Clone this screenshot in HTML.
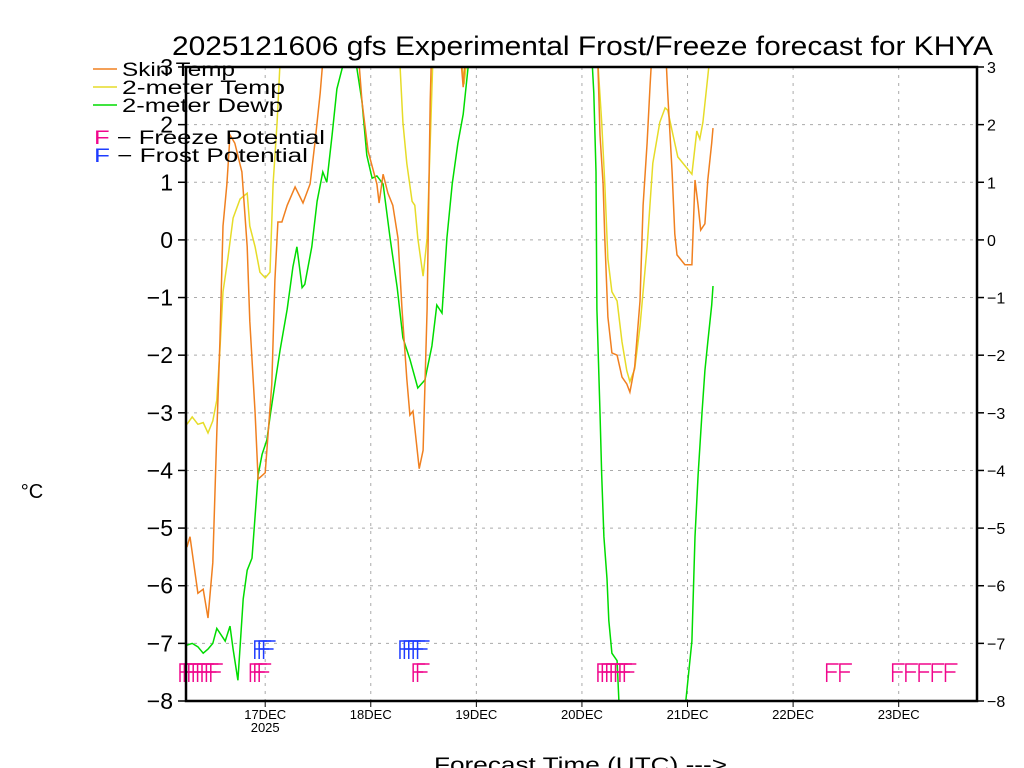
<!DOCTYPE html>
<html><head><meta charset="utf-8"><style>
html,body{margin:0;padding:0;background:#fff;}
svg{display:block;font-family:"Liberation Sans",sans-serif;}
</style></head><body>
<svg id="chart" width="1024" height="768" viewBox="0 0 1024 768" xmlns="http://www.w3.org/2000/svg">
<defs><clipPath id="plotclip"><rect x="186" y="67" width="791" height="634"/></clipPath></defs>
<text x="172" y="55" font-size="27" fill="#000" textLength="821" lengthAdjust="spacingAndGlyphs">2025121606 gfs Experimental Frost/Freeze forecast for KHYA</text>
<g id="grid"></g>
<g id="series" clip-path="url(#plotclip)"></g>
<g id="marks"></g>
<g id="axes"></g>
<text x="32" y="498" text-anchor="middle" font-size="20">°C</text>
<text x="434" y="772" font-size="21" textLength="293" lengthAdjust="spacingAndGlyphs">Forecast Time (UTC) ---&gt;</text>
<g>
<line x1="93" y1="69" x2="117" y2="69" stroke="#f08020" stroke-width="1.5"/>
<text x="122" y="76" font-size="19" textLength="113" lengthAdjust="spacingAndGlyphs">Skin Temp</text>
<line x1="93" y1="87" x2="117" y2="87" stroke="#e6dc28" stroke-width="1.5"/>
<text x="122" y="94" font-size="19" textLength="163" lengthAdjust="spacingAndGlyphs">2-meter Temp</text>
<line x1="93" y1="105" x2="117" y2="105" stroke="#00dc00" stroke-width="1.5"/>
<text x="122" y="112" font-size="19" textLength="161" lengthAdjust="spacingAndGlyphs">2-meter Dewp</text>
<text x="94" y="144" font-size="19" textLength="231" lengthAdjust="spacingAndGlyphs"><tspan fill="#f0068c">F</tspan> − Freeze Potential</text>
<text x="94" y="162" font-size="19" textLength="214" lengthAdjust="spacingAndGlyphs"><tspan fill="#1e3cff">F</tspan> − Frost Potential</text>
</g>
</svg>
<script>
const skinHours=[0.2,0.9,2.7,3.9,5,6.1,7,7.7,8.4,9.3,10,11.1,12.7,13.9,14.5,15.7,16.4,18,19.5,20.2,20.9,21.8,23,24.8,26.6,28.2,29.3,30.5,31.1,35,38.4,40,41.4,43.4,43.9,44.8,45.9,47,48.2,49.1,50.2,50.9,51.6,53,53.9,54.8,55.5,55.9,57.7,62.3,63,63.6,66.8,91.8,93.6,94.1,94.8,95.2,95.9,96.8,98,99.1,100.2,100.9,102,103.2,103.9,104.8,105.5,106.1,107.7,108.9,109.5,110.5,111.1,111.6,113.4,115,115.7,116.4,117,117.95,118.6,119.5,119.8];
const skinTemp=[-5.33,-5.15,-6.13,-6.06,-6.56,-5.6,-3.35,-1.77,0.24,0.97,1.82,1.68,1.18,-0.12,-1.41,-3.0,-4.15,-4.04,-2.5,-0.7,0.31,0.31,0.6,0.92,0.64,0.97,1.68,2.55,3.1,4,4,2.4,1.54,0.97,0.64,1.14,0.81,0.6,0.03,-1.2,-2.41,-3.04,-2.97,-3.97,-3.65,-1.2,2.4,3.5,4,3.3,2.65,3.3,4,4,3.1,1.82,0.97,0.03,-1.34,-1.96,-2.0,-2.38,-2.5,-2.64,-2.2,-1.06,0.6,1.68,2.69,3.5,4,3.5,2.55,1.18,0.1,-0.26,-0.43,-0.43,1.04,0.6,0.17,0.28,1.04,1.68,1.94];
const t2Hours=[0.2,1.4,2.7,3.9,5,6.1,7,7.7,8.4,9.5,10.7,12.3,13.9,14.5,15.7,16.8,18,19.1,19.8,20.7,21.4,25.9,46.4,48.6,49.3,50.2,51.4,52,52.7,53.9,54.8,55.5,56.1,57.7,62.3,63.2,64.1,66.8,91.8,93.6,94.5,95.2,95.9,96.8,98,99.1,100.2,100.9,102,103.2,104.8,106.1,107.7,108.9,109.5,110.7,111.8,113.4,115,116.1,116.8,117.5,118.4,119.1,119.8];
const t2Temp=[-3.2,-3.07,-3.2,-3.17,-3.35,-3.14,-2.78,-1.91,-0.9,-0.33,0.38,0.71,0.81,0.24,-0.12,-0.56,-0.66,-0.56,0.97,2.04,3.1,4,4,3.1,2.04,1.33,0.67,0.6,0.03,-0.63,0.03,1.68,3.1,4,3.3,2.7,3.3,4,4,3.1,2.04,0.97,-0.33,-0.9,-1.06,-1.77,-2.27,-2.46,-2.24,-1.5,-0.12,1.33,2.04,2.29,2.25,1.82,1.44,1.29,1.14,1.89,1.75,2.04,2.69,3.2,3.4];
const dewHours=[0.2,1.4,2.7,3.9,5,6.1,7,8.9,10,10.7,11.8,13,13.9,15,15.7,16.4,17.3,18.4,19.1,20.2,21.4,23,24.3,25.2,26.4,27,28.6,29.8,31.1,32,33.2,34.3,35.5,36.8,38.4,40,41.1,42.3,43.4,44.8,46.4,48,49.3,50.9,52.7,54.3,55.9,57,58.2,59.3,60.5,61.8,63,64.1,65.7,90.7,92.3,92.7,93.2,93.4,94.1,94.5,95,95.7,96.1,96.8,98,98.4,99.1,113,113.6,115,115.7,116.4,117.3,117.95,118.6,119.5,119.8];
const dewPoint=[-7.03,-7.0,-7.06,-7.17,-7.1,-7.0,-6.74,-6.96,-6.7,-7.1,-7.64,-6.23,-5.73,-5.52,-4.79,-4.08,-3.72,-3.47,-3.07,-2.5,-1.91,-1.2,-0.47,-0.12,-0.83,-0.77,-0.12,0.67,1.18,1.0,1.82,2.62,2.98,3.3,3.2,2.4,1.47,1.07,1.11,0.97,0.03,-0.83,-1.7,-2.07,-2.57,-2.43,-1.84,-1.13,-1.27,0.03,0.97,1.68,2.18,2.98,4,4,3.1,2.55,1.18,-1.2,-3.0,-4.08,-5.15,-5.88,-6.6,-7.17,-7.3,-8,-9,-9,-8,-6.96,-5.15,-4.08,-3.0,-2.27,-1.77,-1.13,-0.8];
const freezeHours=[0,1,2,3,4,5,6,7,16,17,18,53,54,95,96,97,98,99,100,101,147,150,162,165,168,171,174];
const frostHours=[17,18,19,50,51,52,53,54];
const yTicks=[-8,-7,-6,-5,-4,-3,-2,-1,0,1,2,3];
const dayLabels=["17DEC","18DEC","19DEC","20DEC","21DEC","22DEC","23DEC"];
const dayHours=[18,42,66,90,114,138,162];

const NS="http://www.w3.org/2000/svg";
const X0=186,X1=977,Y0=701,Y1=67,HMAX=179.8,YMIN=-8,YMAX=3;
function xs(h){return X0+(X1-X0)*h/HMAX;}
function ys(v){return Y0-(Y0-Y1)*(v-YMIN)/(YMAX-YMIN);}
function mk(tag,attrs,parent){const e=document.createElementNS(NS,tag);for(const k in attrs)e.setAttribute(k,attrs[k]);parent.appendChild(e);return e;}
const grid=document.getElementById('grid'),axes=document.getElementById('axes'),series=document.getElementById('series'),marks=document.getElementById('marks');
yTicks.forEach(v=>{
  const y=ys(v);
  if(v>YMIN&&v<YMAX){const g=mk('line',{x1:X0,x2:X1,y1:y,y2:y,stroke:'#aaa','stroke-width':1,'stroke-dasharray':'3,5'},grid);
  
  }
  const t1=mk('line',{x1:X0-8,x2:X0,y1:y,y2:y,stroke:'#000','stroke-width':1.5},axes);
  
  
  const t2=mk('line',{x1:X1,x2:X1+7,y1:y,y2:y,stroke:'#000','stroke-width':1.5},axes);
  
  
  const l=mk('text',{x:173,y:y+8,'text-anchor':'end','font-size':23},axes);l.textContent=(v<0?'−':'')+Math.abs(v);
  
  
  const r=mk('text',{x:987,y:y+6,'font-size':16},axes);r.textContent=(v<0?'−':'')+Math.abs(v);
  
  
});
dayHours.forEach((h,i)=>{
  const x=xs(h);
  const g=mk('line',{x1:x,x2:x,y1:Y1,y2:Y0,stroke:'#aaa','stroke-width':1,'stroke-dasharray':'3,5'},grid);
  
  
  const t=mk('line',{x1:x,x2:x,y1:Y0,y2:Y0+6,stroke:'#000','stroke-width':1},axes);
  
  
  const l=mk('text',{x:x,y:719,'text-anchor':'middle','font-size':13},axes);l.textContent=dayLabels[i];
  
  
});
const yr=mk('text',{x:xs(dayHours[0]),y:732,'text-anchor':'middle','font-size':13},axes);yr.textContent='2025';


const frame=mk('rect',{x:X0,y:Y1,width:X1-X0,height:Y0-Y1,fill:'none',stroke:'#000','stroke-width':2.5},axes);


function line(hs,vs,color,name){
  const d=hs.map((h,i)=>(i?'L':'M')+xs(h).toFixed(1)+','+ys(vs[i]).toFixed(1)).join(' ');
  const p=mk('path',{d:d,fill:'none',stroke:color,'stroke-width':1.5},series);
  
  
}
line(dewHours,dewPoint,'#00dc00','dewpoint-line');
line(t2Hours,t2Temp,'#e6dc28','2m-temp-line');
line(skinHours,skinTemp,'#f08020','skin-temp-line');
function fmark(h,top,color,name){
  const x=xs(h)-6;
  const p=mk('path',{d:`M${x},${top+18} V${top} H${x+12} M${x},${top+8} H${x+10}`,fill:'none',stroke:color,'stroke-width':1.5},marks);
  
  
}
freezeHours.forEach(h=>fmark(h,664,'#f0068c','freeze-marker'));
frostHours.forEach(h=>fmark(h,641,'#1e3cff','frost-marker'));
</script>
</body></html>
